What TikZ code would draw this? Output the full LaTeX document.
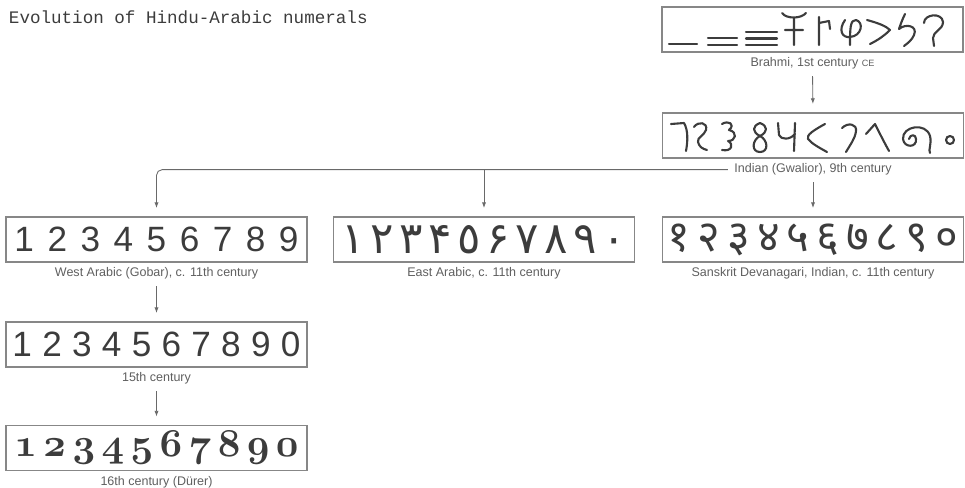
\documentclass[tikz,border=0pt]{standalone}
\usepackage{fix-cm}
\usepackage{fontspec}
\setsansfont{Liberation Sans}
\newfontfamily\policeTitre{Liberation Mono}
\newfontfamily\policeChiffres{Liberation Sans}
\newfontfamily\policeArabe[Script=Arabic]{DejaVu Sans}
\newfontfamily\policeDeva[Script=Devanagari]{Noto Sans}
\usepackage{tikz}
\usetikzlibrary{arrows.meta,positioning}
\definecolor{encre}{RGB}{60,60,60}
\definecolor{grisTrait}{RGB}{105,105,105}
\definecolor{grisCadre}{RGB}{135,135,135}
\definecolor{grisLegende}{RGB}{95,95,95}

\begin{document}
\begin{tikzpicture}[x=0.025cm, y=-0.025cm,
  boite/.style={draw=grisCadre, line width=1pt, minimum width=7.52cm,
                minimum height=1.12cm, inner sep=0pt, text=encre},
  legende/.style={font=\sffamily\fontsize{8.9}{10}\selectfont, text=grisLegende,
                  inner sep=1.5pt},
  fleche/.style={-{Latex[length=4pt,width=3pt]}, grisTrait, line width=0.6pt,
                 shorten <=3pt, shorten >=6pt},
  trait/.style={encre, line width=1.5pt, line cap=round, line join=round}]

  \useasboundingbox (0,0) rectangle (965,487);

  \node[anchor=west, text=encre, font=\policeTitre\fontsize{12.5}{14}\selectfont]
    (titre) at (4,17) {Evolution of Hindu-Arabic numerals};

  \node[boite] (brahmi) at (812.5,29.5) {};
  \node[legende, below=2pt of brahmi] (lgBrahmi)
    {Brahmi, 1st century {\fontsize{6.5}{7}\selectfont CE}};

  \node[boite] (gwalior) at (813,135.5) {};
  \node[legende, below=2pt of gwalior] (lgGwalior) {Indian (Gwalior), 9th century};

  \node[boite, font=\policeChiffres\fontsize{25}{30}\selectfont] (westar) at (156.5,239.5)
    {\makebox[7.1cm][s]{1\hfill 2\hfill 3\hfill 4\hfill 5\hfill 6\hfill 7\hfill 8\hfill 9}};
  \node[legende, below=2pt of westar] (lgWestar) {West Arabic (Gobar), c. 11th century};

  \node[boite, font=\policeArabe\fontsize{31}{34}\selectfont] (eastar) at (484,239.5)
    {\makebox[7.1cm][s]{١\hfill ٢\hfill ٣\hfill ۴\hfill ٥\hfill ۶\hfill ٧\hfill ٨\hfill ٩\hfill ٠}};
  \node[legende, below=2pt of eastar] (lgEastar) {East Arabic, c. 11th century};

  \node[boite, font=\policeDeva\fontsize{31}{34}\selectfont] (devanagari) at (813,239.5)
    {\makebox[7.25cm][s]{१\hfill २\hfill ३\hfill ४\hfill ५\hfill ६\hfill ७\hfill ८\hfill ९\hfill ०}};
  \node[legende, below=2pt of devanagari] (lgDevanagari)
    {Sanskrit Devanagari, Indian, c. 11th century};

  \node[boite, font=\policeChiffres\fontsize{25}{30}\selectfont] (quinze) at (156.5,344.5)
    {\makebox[7.2cm][s]{1\hfill 2\hfill 3\hfill 4\hfill 5\hfill 6\hfill 7\hfill 8\hfill 9\hfill 0}};
  \node[legende, below=2pt of quinze] (lgQuinze) {15th century};

  \node[boite, font=\fontsize{28}{30}\usefont{OML}{cmm}{b}{it}] (durer) at (156.5,448)
    {\makebox[7.1cm][s]{1\hfill 2\hfill 3\hfill 4\hfill 5\hfill 6\hfill 7\hfill 8\hfill 9\hfill 0}};
  \node[legende, below=2pt of durer] (lgDurer) {16th century (Dürer)};

  % chiffres brahmi
  \draw[trait] (669,44)--(697,44);
  \draw[trait] (708,38)--(737,38) (708,45)--(737,45);
  \draw[trait] (746,32)--(777,32) (746,38.5)--(777,38.5) (746,45)--(777,45);
  \draw[trait] (782,13) .. controls (786,19) and (801,19) .. (806,13)
               (794,18)--(794,45) (785,30)--(803,30);
  \draw[trait] (819,17)--(819,45) (819,23)--(829,21)--(830,29);
  \draw[trait] (845,20) .. controls (838,30) and (842,38) .. (850,37)
               .. controls (862,36) and (864,22) .. (856,20)
               .. controls (850,19) and (850,30) .. (850,45);
  \draw[trait] (867,20) .. controls (878,23) and (886,26) .. (890,30)
               .. controls (884,36) and (878,40) .. (870,44);
  \draw[trait] (905,14) .. controls (902,20) and (900,26) .. (899,29)
               .. controls (906,23) and (918,26) .. (914,35)
               .. controls (912,40) and (908,43) .. (904,46);
  \draw[trait] (924,23) .. controls (924,14) and (942,12) .. (943,22)
               .. controls (943,30) and (933,31) .. (933,38) -- (934,46);

  % chiffres de Gwalior
  \draw[trait] (671,124) -- (684,123) .. controls (688,130) and (688,140) .. (686,151);
  \draw[trait] (694,127) .. controls (698,121) and (708,122) .. (706,130)
               .. controls (704,136) and (697,137) .. (698,142)
               .. controls (699,147) and (703,149) .. (707,150);
  \draw[trait] (722,124) .. controls (728,120) and (736,124) .. (729,130)
               .. controls (738,132) and (736,141) .. (728,141)
               .. controls (734,144) and (732,152) .. (722,150);
  \draw[trait] (760,123) .. controls (752,126) and (752,132) .. (760,136)
               .. controls (768,140) and (769,152) .. (760,152)
               .. controls (751,152) and (752,140) .. (760,136)
               .. controls (768,132) and (768,126) .. (760,123);
  \draw[trait] (778,123) -- (779,135) .. controls (781,140) and (790,140) .. (795,134)
               (795,123) -- (794,151);
  \draw[trait] (825,124) .. controls (814,130) and (806,135) .. (808,139)
               .. controls (812,144) and (820,148) .. (827,152);
  \draw[trait] (842,128) .. controls (848,122) and (857,124) .. (856,131)
               .. controls (855,139) and (850,145) .. (846,152);
  \draw[trait] (866,134) -- (875,124) .. controls (879,132) and (884,142) .. (889,151);
  \draw[trait] (909,139) .. controls (910,134) and (916,134) .. (916,139)
               .. controls (917,148) and (904,148) .. (903,139)
               .. controls (902,126) and (926,122) .. (930,136)
               .. controls (932,144) and (928,150) .. (930,153);
  \draw[trait] (950,140) circle (4);

  \draw[fleche] (lgBrahmi.south) -- (gwalior.north);
  \draw[fleche, rounded corners=4pt] (lgGwalior.west) -| (westar.north);
  \draw[fleche, shorten <=0pt] (eastar.north |- lgGwalior.west) -- (eastar.north);
  \draw[fleche] (lgGwalior.south) -- (devanagari.north);
  \draw[fleche] (lgWestar.south) -- (quinze.north);
  \draw[fleche] (lgQuinze.south) -- (durer.north);
\end{tikzpicture}
\end{document}
